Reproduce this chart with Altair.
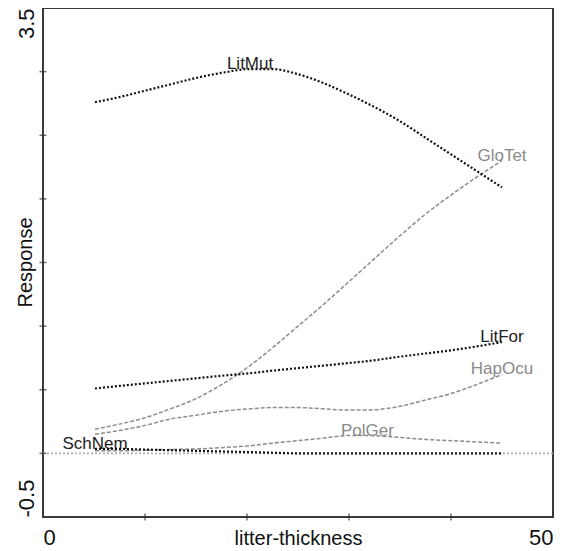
import altair as alt
import pandas as pd

# ---- data ----
x_vals = [5.1, 7.5, 10, 12.5, 15, 17.5, 20.3, 22.5, 25, 27.5, 30, 31.8, 35, 37.5, 40, 42.5, 45]

lit_mut = [2.76, 2.80, 2.85, 2.90, 2.95, 2.99, 3.02, 3.02, 2.98, 2.91, 2.82, 2.75, 2.61, 2.48, 2.35, 2.22, 2.09]
glo_tet = [0.19, 0.23, 0.28, 0.35, 0.43, 0.54, 0.69, 0.83, 1.00, 1.17, 1.35, 1.48, 1.71, 1.88, 2.03, 2.17, 2.30]
lit_for = [0.51, 0.53, 0.55, 0.57, 0.59, 0.61, 0.63, 0.65, 0.67, 0.69, 0.71, 0.725, 0.76, 0.785, 0.81, 0.84, 0.875]
hap_ocu = [0.15, 0.18, 0.22, 0.27, 0.30, 0.33, 0.35, 0.36, 0.36, 0.35, 0.34, 0.34, 0.37, 0.42, 0.47, 0.54, 0.62]
pol_ger = [0.02, 0.02, 0.025, 0.03, 0.035, 0.045, 0.06, 0.08, 0.10, 0.12, 0.14, 0.14, 0.125, 0.11, 0.10, 0.09, 0.08]
sch_nem = [0.035, 0.035, 0.03, 0.025, 0.02, 0.015, 0.01, 0.005, 0.0, 0.0, 0.0, 0.0, 0.0, 0.0, 0.0, 0.0, 0.0]

series_names = ["LitMut", "GloTet", "LitFor", "HapOcu", "PolGer", "SchNem"]
series_values = [lit_mut, glo_tet, lit_for, hap_ocu, pol_ger, sch_nem]
series_kind = ["black", "gray", "black", "gray", "gray", "black"]
label_at_x = [20.3, 45, 45, 45, 31.8, 5.1]

y_ticks = [0, 0.5, 1, 1.5, 2, 2.5, 3]
x_ticks = [10, 20, 30, 40]
reference_y = [0]

# ---- tables ----
rows = []
for name, vals, kind in zip(series_names, series_values, series_kind):
    for xv, yv in zip(x_vals, vals):
        rows.append({"series": name, "x": xv, "y": yv, "kind": kind})
df = pd.DataFrame(rows)

lab_rows = []
for name, vals, kind, lx in zip(series_names, series_values, series_kind, label_at_x):
    lab_rows.append({"series": name, "x": lx, "y": vals[x_vals.index(lx)], "kind": kind})
df_lab = pd.DataFrame(lab_rows)

df_yt = pd.DataFrame({"y": y_ticks})
df_xt = pd.DataFrame({"x": x_ticks})
df_ref = pd.DataFrame({"y": reference_y})

FONT = "Liberation Sans"
xscale = alt.Scale(domain=[0, 50], nice=False, zero=False)
yscale = alt.Scale(domain=[-0.5, 3.5], nice=False, zero=False)

x_axis = alt.Axis(
    values=[0, 50], title="litter-thickness", grid=False, ticks=False, tickSize=0,
    domain=False, labelFlush=True, labelFontSize=22, labelFont=FONT, labelColor="#111",
    labelPadding=10, labelBaseline="top",
    titleFontSize=20, titleFont=FONT, titleFontWeight="normal", titleColor="#111",
    titleX=255, titleY=27, titleBaseline="alphabetic", titleAlign="center",
)
y_axis = alt.Axis(
    values=[-0.5, 3.5], title="Response", grid=False, ticks=False, tickSize=0,
    domain=False, labelAngle=-90, labelFontSize=22, labelFont=FONT, labelColor="#111",
    labelPadding=10, labelBaseline="alphabetic",
    labelExpr="(datum.value < 0 ? '-' : '') + format(abs(datum.value), '.1f')",
    labelAlign={"condition": {"test": "datum.value > 1", "value": "right"}, "value": "left"},
    titleFontSize=20, titleFont=FONT, titleFontWeight="normal", titleColor="#111",
    titleAngle=270, titleX=-12, titleY=254, titleBaseline="alphabetic", titleAlign="center",
)

base_x = alt.X("x:Q", scale=xscale, axis=x_axis)
base_y = alt.Y("y:Q", scale=yscale, axis=y_axis)

ref = alt.Chart(df_ref).mark_rule(color="#b0b0b0", strokeDash=[2, 2], strokeWidth=1.6).encode(
    y=alt.Y("y:Q", scale=yscale, axis=y_axis)
)

gray_lines = alt.Chart(df).transform_filter(alt.datum.kind == "gray").mark_line(
    color="#8c8c8c", strokeDash=[4, 2], strokeWidth=1.5, interpolate="monotone"
).encode(x=base_x, y=base_y, detail="series:N")

black_lines = alt.Chart(df).transform_filter(alt.datum.kind == "black").mark_line(
    color="#111111", strokeDash=[2, 2], strokeWidth=2.2, interpolate="monotone"
).encode(x=base_x, y=base_y, detail="series:N")

labels_black = alt.Chart(df_lab).transform_filter(alt.datum.kind == "black").mark_text(
    align="center", baseline="alphabetic", fontSize=17, font=FONT, color="#222"
).encode(x=base_x, y=base_y, text="series:N")

labels_gray = alt.Chart(df_lab).transform_filter(alt.datum.kind == "gray").mark_text(
    align="center", baseline="alphabetic", fontSize=17, font=FONT, color="#8a8a8a"
).encode(x=base_x, y=base_y, text="series:N")

yt = alt.Chart(df_yt).mark_tick(orient="horizontal", size=7, thickness=1.5, color="#333").encode(
    x=alt.datum(0, scale=xscale), y=alt.Y("y:Q", scale=yscale, axis=y_axis)
)
xt = alt.Chart(df_xt).mark_tick(orient="vertical", size=7, thickness=1.5, color="#333").encode(
    x=alt.X("x:Q", scale=xscale, axis=x_axis), y=alt.datum(-0.5, scale=yscale)
)

chart = alt.layer(ref, gray_lines, black_lines, labels_gray, labels_black, yt, xt).properties(
    width=510, height=509,
    autosize=alt.AutoSizeParams(type="none"),
    padding={"left": 35, "top": 0, "right": 10, "bottom": 36},
).configure(
    background="white",
    view=alt.ViewConfig(stroke="#3a3a3a", strokeWidth=2),
)

chart.save("out.html", embed_options={"renderer": "svg", "actions": False})
